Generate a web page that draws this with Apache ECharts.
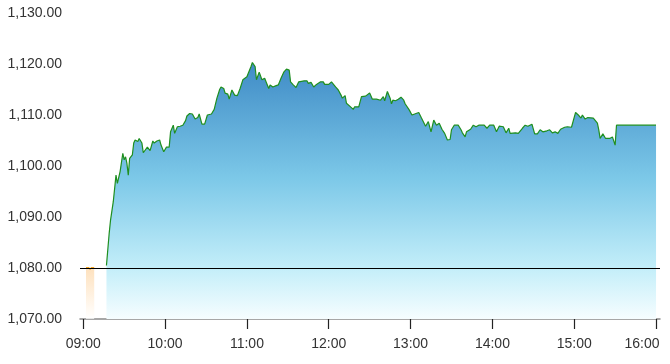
<!DOCTYPE html>
<html>
<head>
<meta charset="utf-8">
<script src="https://cdn.jsdelivr.net/npm/echarts@6/dist/echarts.min.js"></script>
<style>
html,body{margin:0;padding:0;background:#fff;}
#chart{width:670px;height:364px;}
</style>
</head>
<body>
<div id="chart"></div>
<script>
// minutes after 09:00
var preMinutes = [2, 4, 5, 6, 8];
var prePrices = [1080.1, 1080.1, 1079.7, 1080.1, 1080.1];

var minutes = [17,19,20,22,23,24,25,27,29,30,31,32,33,34,36,37,38,40,41,43,44,47,49,51,52,54,56,57,59,61,63,64,66,67,69,71,73,75,76,78,80,82,84,85,87,89,91,94,96,98,100,101,103,104,106,107,109,111,113,115,117,118,120,121,123,124,126,127,129,130,131,133,134,136,137,139,141,142,143,145,147,149,151,152,154,156,158,162,164,165,167,169,171,174,176,177,180,182,183,185,187,189,190,192,193,196,198,199,202,204,207,208,210,211,212,215,218,220,221,223,225,226,227,229,231,233,235,236,239,241,244,246,248,249,251,253,255,257,259,261,263,265,267,269,270,272,275,277,278,280,281,284,286,288,290,292,294,296,298,301,303,305,308,310,312,313,317,319,322,324,326,329,331,333,335,337,340,342,344,346,348,350,353,355,356,358,359,361,363,365,366,368,370,374,377,378,379,381,383,386,388,390,391,420];
var prices = [1080.5,1086.8,1089.4,1093.0,1093.3,1098.2,1096.6,1098.9,1102.5,1101.2,1101.8,1100.5,1098.2,1101.5,1102.2,1104.5,1105.1,1104.8,1105.4,1104.5,1102.6,1103.7,1103.0,1104.9,1104.5,1104.9,1105.1,1104.1,1102.8,1103.7,1103.7,1106.7,1108.0,1106.4,1107.7,1107.8,1108.0,1108.9,1109.8,1110.3,1110.2,1109.2,1109.5,1110.2,1108.2,1108.2,1110.0,1110.2,1111.1,1113.3,1115.0,1115.5,1115.2,1114.3,1114.1,1113.1,1114.9,1113.9,1113.8,1115.2,1116.9,1117.2,1117.5,1118.2,1119.5,1120.3,1119.5,1116.9,1118.4,1118.2,1116.9,1117.2,1116.9,1115.2,1115.9,1115.5,1115.7,1115.5,1115.9,1117.2,1118.4,1119.0,1118.8,1116.5,1115.9,1115.4,1116.5,1116.7,1116.7,1116.2,1116.4,1115.5,1116.0,1116.5,1116.5,1116.0,1116.0,1116.5,1116.2,1115.5,1114.9,1113.9,1113.3,1113.8,1112.3,1111.6,1111.1,1111.6,1111.6,1113.6,1113.7,1113.9,1114.3,1114.4,1113.1,1113.1,1112.9,1113.6,1112.8,1114.6,1113.3,1112.2,1112.9,1112.8,1113.1,1113.5,1112.9,1112.2,1111.0,1110.0,1110.3,1110.5,1109.4,1109.2,1107.8,1108.7,1106.7,1109.0,1108.0,1108.4,1107.2,1106.4,1105.1,1105.2,1107.1,1108.0,1108.0,1107.1,1106.5,1105.7,1106.7,1107.2,1108.0,1107.7,1108.0,1108.0,1108.0,1107.4,1108.0,1108.0,1106.7,1107.8,1107.7,1106.5,1107.4,1106.4,1106.5,1106.4,1107.4,1108.0,1107.8,1108.2,1106.3,1106.3,1107.1,1106.7,1106.9,1107.1,1106.5,1106.7,1106.4,1107.2,1107.6,1107.7,1108.0,1107.6,1107.8,1110.5,1110.0,1109.4,1110.0,1109.2,1109.5,1109.4,1108.4,1107.1,1105.4,1106.3,1105.4,1105.4,1105.7,1104.1,1108.0,1108.0];

var prevClose = 1080;
var xTickLabels = ['09:00','10:00','11:00','12:00','13:00','14:00','15:00','16:00'];
var yMin = 1070, yMax = 1130, yStep = 10;

function toMin(s){ var p = s.split(':'); return (+p[0])*60 + (+p[1]); }
var xTickValues = xTickLabels.map(toMin);
var open = toMin('09:00');
var lastTick = xTickValues[xTickValues.length-1];

function fmtTime(v){
  var h = Math.floor(v/60), m = Math.round(v - h*60);
  var s = (h<10?'0':'')+h+':'+(m<10?'0':'')+m;
  return v === lastTick ? '{e|' + s + '}' : s;
}

var mainData = minutes.map(function(m,i){ return [open+m, prices[i]]; });
var preData = preMinutes.map(function(m,i){ return [open+m, prePrices[i]]; });

var chart = echarts.init(document.getElementById('chart'));
chart.setOption({
  animation: false,
  grid: {left: 80, right: 10, top: 13, bottom: 45, containLabel: false, outerBoundsMode: 'none'},
  xAxis: {
    type: 'value',
    min: open - 2.4,
    max: lastTick + 2.9,
    axisLine: {lineStyle: {color: '#8a8a8a', width: 1.5}},
    axisTick: {show: true, length: 10, customValues: xTickValues, lineStyle: {color: '#222', width: 1.2}},
    axisLabel: {
      customValues: xTickValues, formatter: fmtTime, color: '#333', fontSize: 14, margin: 18,
      fontFamily: 'Liberation Sans, Arial, sans-serif',
      rich: {e: {color: '#333', fontSize: 14, fontFamily: 'Liberation Sans, Arial, sans-serif', padding: [0, 28, 0, 0]}}
    },
    splitLine: {show: false}
  },
  yAxis: {
    type: 'value',
    min: yMin, max: yMax, interval: yStep,
    axisLine: {show: false},
    axisTick: {show: false},
    splitLine: {show: false},
    axisLabel: {
      color: '#333', fontSize: 14, margin: 18, fontFamily: 'Liberation Sans, Arial, sans-serif',
      formatter: function(v){ return v.toLocaleString('en-US',{minimumFractionDigits:2, maximumFractionDigits:2}); }
    }
  },
  series: [
    {
      type: 'line',
      data: preData,
      showSymbol: false,
      lineStyle: {color: '#f5a623', width: 1.2},
      areaStyle: {
        origin: 'start',
        color: new echarts.graphic.LinearGradient(0,0,0,1,[
          {offset:0, color:'#fcd3a0'},
          {offset:1, color:'#ffffff'}
        ])
      },
      z: 2
    },
    {
      type: 'line',
      data: mainData,
      showSymbol: false,
      lineStyle: {color: '#1f8f1f', width: 1.2},
      areaStyle: {
        origin: 'start',
        opacity: 1,
        color: new echarts.graphic.LinearGradient(0,0,0,1,[
          {offset:0, color:'#3f8bc6'},
          {offset:0.45, color:'#7cc8e8'},
          {offset:0.8, color:'#c3eef9'},
          {offset:1, color:'#f6fdff'}
        ])
      },
      markLine: {
        silent: true,
        symbol: 'none',
        label: {show: false},
        lineStyle: {color: '#000', width: 1, type: 'solid'},
        data: [{yAxis: prevClose}]
      },
      z: 3
    }
  ]
});
</script>
</body>
</html>
